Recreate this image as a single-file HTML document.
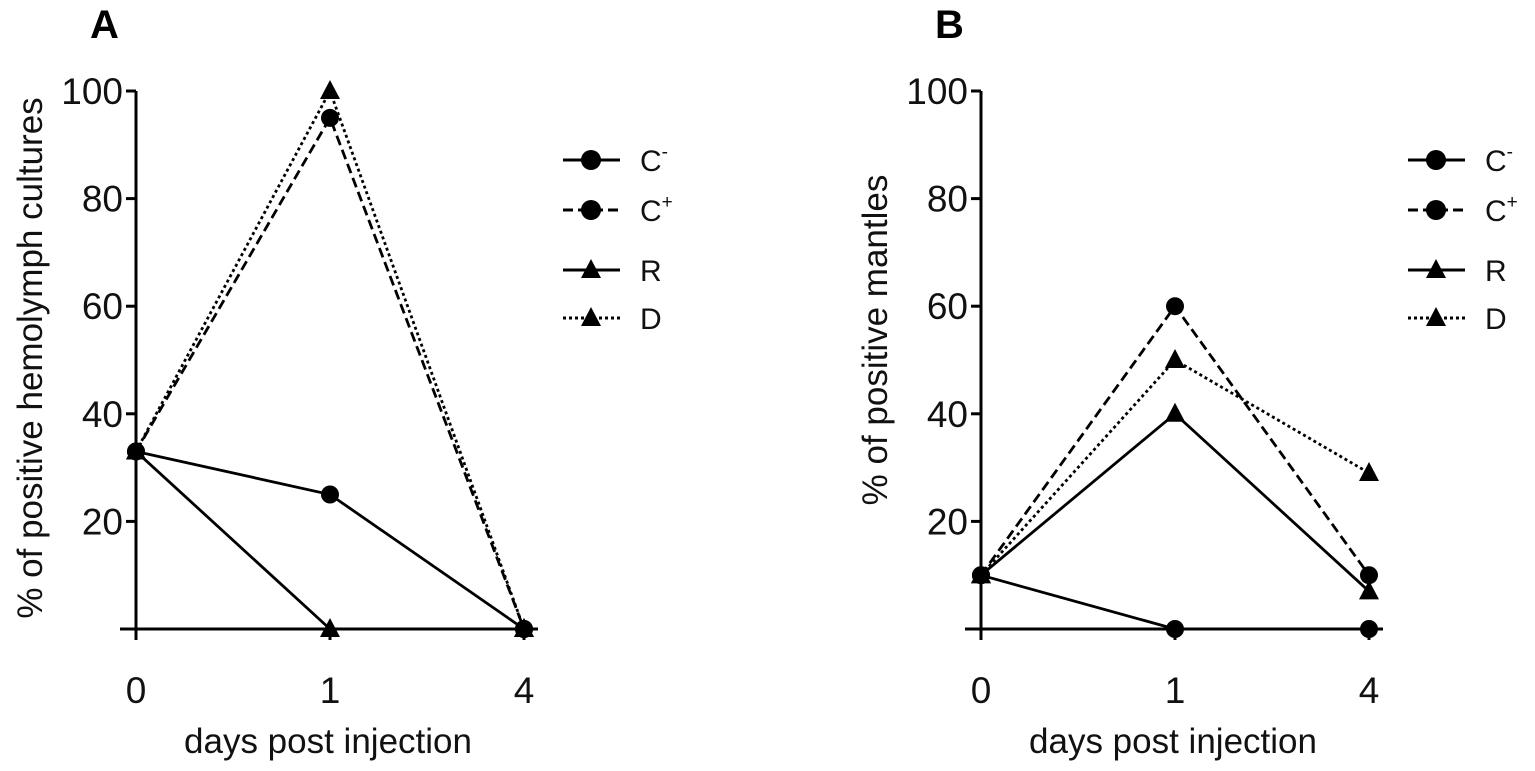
<!DOCTYPE html>
<html><head><meta charset="utf-8"><style>
body{margin:0;background:#fff}
svg{display:block;font-family:"Liberation Sans",Arial,sans-serif}
</style></head><body>
<svg id="chart" width="1535" height="771" viewBox="0 0 1535 771" xmlns="http://www.w3.org/2000/svg"></svg>
<script>
const days=["0","1","4"];
const yTicks=[20,40,60,80,100];
const seriesNames=["C-","C+","R","D"];
const aCminus=[33,25,0];
const aCplus=[33,95,0];
const aR=[33,0,0];
const aD=[33,100,0];
const bCminus=[10,0,0];
const bCplus=[10,60,10];
const bR=[10,40,7];
const bD=[10,50,29];

const NS="http://www.w3.org/2000/svg";
const svg=document.getElementById('chart');
function mk(tag,attrs,parent){const e=document.createElementNS(NS,tag);for(const k in attrs)e.setAttribute(k,attrs[k]);(parent||svg).appendChild(e);return e;}
const styles=[{dash:"none",marker:"circle"},{dash:"10,5",marker:"circle"},{dash:"none",marker:"tri"},{dash:"3,3",marker:"tri"}];
function marker(g,x,y,type,r){
  if(type==="circle"){const c=mk('circle',{cx:x,cy:y,r:r,fill:'#000'},g);}
  else{const p=mk('polygon',{points:`${x},${y-r-2} ${x-r-1},${y+r-1} ${x+r+1},${y+r-1}`,fill:'#000'},g);}
}
function panel(cfg){
  const g=mk('g',{});
  
  
  const y0=629,y100=91;
  const ys=v=>y0-(y0-y100)*v/100;
  const xs=i=>cfg.x0+i*194;
  const ax=mk('line',{x1:cfg.x0,y1:y100,x2:cfg.x0,y2:y0,stroke:'#000','stroke-width':3},g);
  
  const xa=mk('line',{x1:cfg.x0-16,y1:y0,x2:cfg.x0+402,y2:y0,stroke:'#000','stroke-width':3},g);
  
  yTicks.forEach(t=>{
    mk('line',{x1:cfg.x0-10,y1:ys(t),x2:cfg.x0,y2:ys(t),stroke:'#000','stroke-width':3},g);
    const tx=mk('text',{x:cfg.x0-13,y:ys(t)+13,'font-size':37,'text-anchor':'end',fill:'#111'},g);
    tx.textContent=t;
  });
  days.forEach((d,i)=>{
    mk('line',{x1:xs(i),y1:y0,x2:xs(i),y2:y0+11,stroke:'#000','stroke-width':3},g);
    const tx=mk('text',{x:xs(i),y:y0+74,'font-size':37,'text-anchor':'middle',fill:'#111'},g);
    tx.textContent=d;
  });
  const xt=mk('text',{x:cfg.x0+192,y:753,'font-size':35,'text-anchor':'middle',fill:'#111'},g);
  xt.textContent='days post injection';
  const yt=mk('text',{x:0,y:0,'font-size':35,'text-anchor':'middle',fill:'#111',transform:`translate(${cfg.x0-94},${cfg.ytY}) rotate(-90)`},g);
  yt.textContent=cfg.ytitle;
  const pl=mk('text',{x:cfg.x0-46,y:38,'font-size':40,'font-weight':'bold',fill:'#000'},g);
  pl.textContent=cfg.label;
  cfg.data.forEach((arr,si)=>{
    const st=styles[si];
    const pts=arr.map((v,i)=>xs(i)+','+ys(v)).join(' ');
    const l=mk('polyline',{points:pts,fill:'none',stroke:'#000','stroke-width':2.8,'stroke-dasharray':st.dash},g);
    
    arr.forEach((v,i)=>marker(g,xs(i),ys(v),st.marker,9));
  });
  const lg=[160,210,270,318];
  seriesNames.forEach((n,si)=>{
    const st=styles[si];const y=lg[si];
    const e=mk('g',{},g);
    
    mk('line',{x1:cfg.lx,y1:y,x2:cfg.lx+57,y2:y,stroke:'#000','stroke-width':3,'stroke-dasharray':st.dash},e);
    marker(e,cfg.lx+28,y,st.marker,si<2?10:9);
    const t=mk('text',{x:cfg.lx+77,y:y+11,'font-size':30,fill:'#111'},e);
    if(n[0]==='C'){t.textContent='C';const s=mk('tspan',{dy:-13,'font-size':19},t);s.textContent=n[1]==='-'?'-':'+';}
    else t.textContent=n;
  });
}
panel({name:'panel-a',label:'A',x0:136,lx:563,ytY:358,ytitle:'% of positive hemolymph cultures',data:[aCminus,aCplus,aR,aD]});
panel({name:'panel-b',label:'B',x0:981,lx:1408,ytY:340,ytitle:'% of positive mantles',data:[bCminus,bCplus,bR,bD]});
</script>
</body></html>
